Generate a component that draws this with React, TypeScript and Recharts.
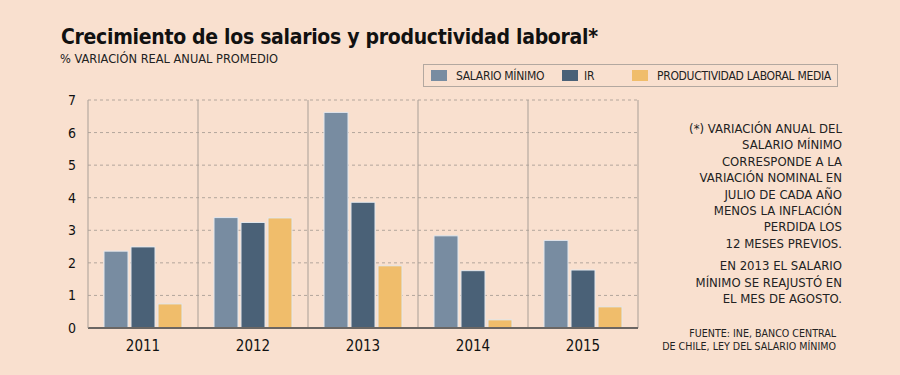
import { BarChart, Bar, XAxis, YAxis, CartesianGrid, Legend } from 'recharts';

const years = ['2011', '2012', '2013', '2014', '2015'];
const salarioMinimo = [2.36, 3.39, 6.62, 2.83, 2.69];
const ir = [2.49, 3.24, 3.86, 1.76, 1.78];
const productividad = [0.74, 3.38, 1.91, 0.25, 0.65];
const yTicks = [0, 1, 2, 3, 4, 5, 6, 7];

const series = [
  { key: 'sm', name: 'SALARIO MÍNIMO', color: '#788ca1' },
  { key: 'ir', name: 'IR', color: '#4a6177' },
  { key: 'pr', name: 'PRODUCTIVIDAD LABORAL MEDIA', color: '#f0bd6b' },
];

const data = years.map((year, i) => ({
  year,
  sm: salarioMinimo[i],
  ir: ir[i],
  pr: productividad[i],
}));

const FONT = '"DejaVu Sans Condensed", "DejaVu Sans", sans-serif';
const BG = '#f9e0cf';

const noteLines = [
  '(*) VARIACIÓN ANUAL DEL',
  'SALARIO MÍNIMO',
  'CORRESPONDE A LA',
  'VARIACIÓN NOMINAL EN',
  'JULIO DE CADA AÑO',
  'MENOS LA INFLACIÓN',
  'PERDIDA LOS',
  '12 MESES PREVIOS.',
];
const noteLines2 = ['EN 2013 EL SALARIO', 'MÍNIMO SE REAJUSTÓ EN', 'EL MES DE AGOSTO.'];
const sourceLines = ['FUENTE: INE, BANCO CENTRAL', 'DE CHILE, LEY DEL SALARIO MÍNIMO'];

// left offsets of each legend item inside the box
const legendPos = [7, 138, 208];

const LegendBox = () => (
  <div
    style={{
      position: 'absolute',
      left: 423,
      top: 64,
      width: 413,
      height: 21,
      border: '1px solid #b3a8a0',
      fontFamily: FONT,
      fontSize: 12,
      letterSpacing: -0.3,
      color: '#222',
    }}
  >
    {series.map((s, i) => (
      <div
        key={s.key}
        style={{
          position: 'absolute',
          left: legendPos[i],
          top: 0,
          height: 21,
          display: 'flex',
          alignItems: 'center',
          whiteSpace: 'nowrap',
        }}
      >
        <div style={{ width: 16, height: 11, background: s.color, marginRight: i === 1 ? 6 : 9 }} />
        <span>{s.name}</span>
      </div>
    ))}
  </div>
);

export default function App() {
  return (
    <div
      style={{
        position: 'absolute',
        left: 0,
        top: 0,
        width: 900,
        height: 375,
        background: BG,
        fontFamily: FONT,
        overflow: 'hidden',
      }}
    >
      <div
        style={{
          position: 'absolute',
          left: 61,
          top: 25,
          fontSize: 21,
          fontWeight: 'bold',
          color: '#111',
          letterSpacing: -0.3,
          whiteSpace: 'nowrap',
        }}
      >
        Crecimiento de los salarios y productividad laboral*
      </div>
      <div style={{ position: 'absolute', left: 60, top: 51, fontSize: 12.7, color: '#222', whiteSpace: 'nowrap' }}>
        % VARIACIÓN REAL ANUAL PROMEDIO
      </div>

      <BarChart
        width={900}
        height={375}
        data={data}
        margin={{ top: 100, right: 262, bottom: 17, left: 58 }}
        barCategoryGap={16}
        barGap={3}
        style={{ position: 'absolute', left: 0, top: 0 }}
      >
        <CartesianGrid vertical={false} stroke="#b3a69c" strokeDasharray="3 3" />
        <CartesianGrid
          horizontal={false}
          stroke="#a99f97"
          verticalCoordinatesGenerator={({ offset }: any) =>
            years.map((_, i) => offset.left + (offset.width * (i + 1)) / years.length)
          }
        />
        <XAxis
          dataKey="year"
          axisLine={{ stroke: '#6b6663', strokeWidth: 2 }}
          tickLine={false}
          tick={{ fill: '#111', fontSize: 15, fontFamily: FONT }}
          height={30}
          dy={4}
        />
        <YAxis
          domain={[0, 7]}
          ticks={yTicks}
          width={30}
          axisLine={{ stroke: '#a99f97' }}
          tickLine={false}
          tick={{ fill: '#111', fontSize: 14, fontFamily: FONT }}
          dx={-4}
        />
        <Legend content={() => <LegendBox />} wrapperStyle={{ position: 'absolute', left: 0, top: 0 }} />
        {series.map((s) => (
          <Bar
            key={s.key}
            dataKey={s.key}
            name={s.name}
            fill={s.color}
            stroke="#e3e8ee"
            strokeWidth={1}
            isAnimationActive={false}
          />
        ))}
      </BarChart>

      <div
        style={{
          position: 'absolute',
          right: 900 - 842,
          top: 121,
          textAlign: 'right',
          fontSize: 13,
          lineHeight: '16.4px',
          color: '#222',
          whiteSpace: 'nowrap',
        }}
      >
        {noteLines.map((l) => (
          <div key={l}>{l}</div>
        ))}
        <div style={{ height: 6 }} />
        {noteLines2.map((l) => (
          <div key={l}>{l}</div>
        ))}
      </div>
      <div
        style={{
          position: 'absolute',
          right: 900 - 836,
          top: 327,
          textAlign: 'right',
          fontSize: 10.6,
          lineHeight: '12.5px',
          color: '#222',
          whiteSpace: 'nowrap',
        }}
      >
        {sourceLines.map((l) => (
          <div key={l}>{l}</div>
        ))}
      </div>
    </div>
  );
}
